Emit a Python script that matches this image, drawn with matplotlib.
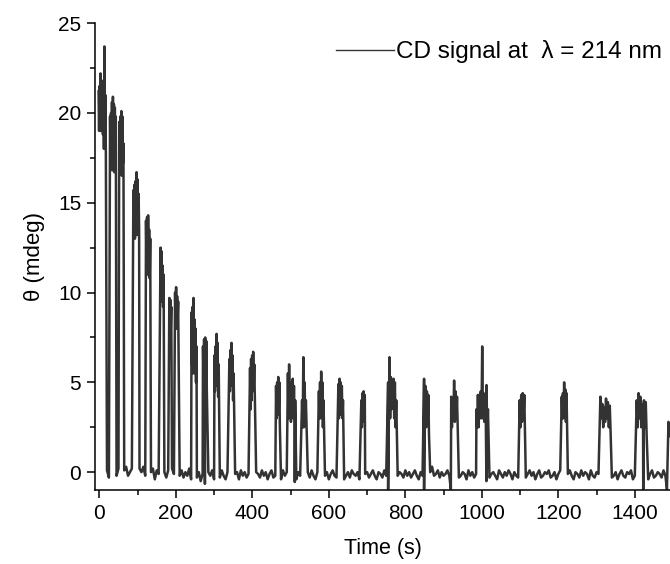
import numpy as np
import matplotlib
matplotlib.use("Agg")
import matplotlib.pyplot as plt
from matplotlib.ticker import MultipleLocator

plt.rcParams['font.family'] = ['Liberation Sans', 'DejaVu Sans']

LINE_COLOR = "#333333"

# pulses: start time (s), end time (s), readings across the pulse top (mdeg)
pulse_start = [-2, 28, 52, 89, 122, 160, 183, 198, 241, 271, 301, 340, 394, 462,
               493, 530, 574, 625, 685, 755, 849, 920, 986, 1099, 1209, 1310,
               1405, 1488]
pulse_end = [17, 43, 63, 104, 133, 168, 188, 206, 254, 281, 312, 351, 405, 472,
             512, 540, 586, 637, 694, 778, 862, 937, 1016, 1111, 1223, 1337,
             1431, 1495]
pulse_tops = [
    [21.2, 19.0, 21.5, 19.3, 22.2, 19.0, 21.8, 19.5, 21.0, 18.8, 21.8, 18.0, 23.7, 18.5, 21.0, 17.8],
    [19.8, 17.2, 20.0, 17.5, 20.6, 16.8, 20.9, 17.0, 20.5, 16.7, 20.3, 17.5, 19.8],
    [19.5, 16.8, 19.8, 17.0, 20.1, 16.5, 19.8, 17.2, 18.3],
    [15.7, 13.5, 16.0, 13.0, 16.2, 13.8, 16.7, 13.2, 16.3, 14.0, 15.5, 13.5],
    [14.0, 11.5, 14.2, 11.0, 14.3, 12.0, 13.5, 10.8, 13.0],
    [12.5, 10.0, 12.3, 9.5, 11.5, 9.2, 11.0],
    [9.7, 7.5, 9.6, 8.0, 9.2],
    [10.0, 8.0, 10.3, 8.0, 9.8, 8.5, 9.5],
    [8.9, 6.0, 9.2, 5.5, 9.7, 6.5, 8.5, 5.5, 8.0, 5.0, 7.0],
    [7.0, 5.0, 7.4, 5.5, 7.5, 4.8, 7.3, 4.5],
    [6.5, 4.5, 7.0, 4.8, 7.7, 5.0, 7.2, 4.2, 6.0],
    [6.3, 4.5, 6.8, 4.8, 7.2, 5.0, 6.5, 4.0, 5.5],
    [5.8, 3.5, 6.3, 4.0, 6.5, 4.5, 6.7, 4.8, 6.0],
    [4.8, 3.0, 5.0, 3.2, 5.3, 3.5, 5.0, 2.5],
    [5.5, 3.0, 6.0, 3.5, 5.0, 2.8, 4.5, 3.5, 5.2, 3.0, 4.8, 2.8, 4.0],
    [4.0, 2.5, 6.4, 2.5, 5.0, 3.0, 4.0],
    [4.5, 3.0, 5.0, 3.0, 5.6, 3.5, 5.0, 2.5, 4.0],
    [4.9, 3.0, 5.2, 3.2, 5.0, 3.5, 4.8, 3.0, 4.0],
    [4.0, 2.5, 4.4, 2.8, 4.5, 3.0, 4.3],
    [5.0, 3.0, 6.4, 3.0, 5.3, 3.5, 5.0, 4.0, 5.2, 3.0, 5.0, 2.5, 4.0, 2.0],
    [5.2, 3.5, 4.8, 2.5, 4.5, 2.8, 4.3, 2.0],
    [4.2, 2.5, 4.0, 3.0, 5.1, 2.8, 4.5, 3.0, 4.2, 2.5],
    [3.5, 2.5, 4.3, 2.5, 4.2, 3.0, 4.5, 3.0, 7.0, 3.0, 4.4, 2.8, 4.0, 3.0, 4.85, 2.0, 3.5],
    [4.0, 2.5, 4.3, 2.8, 4.4, 3.0, 4.3],
    [4.2, 3.0, 4.4, 3.0, 5.0, 3.5, 4.6, 2.8, 4.4, 2.5],
    [4.2, 3.0, 3.8, 2.5, 3.6, 2.8, 4.1, 3.0, 3.9, 2.5, 3.7, 2.0],
    [4.0, 2.5, 4.4, 3.0, 4.2, 2.5, 3.8, 2.8, 4.0, 2.5, 3.9, 2.0],
    [2.8, 2.0, 2.6],
]

# baseline readings every 5 s from t = 15 s (mdeg)
BASE_T0, BASE_STEP = 15, 5
baseline = [
    -0.2, 0.1, -0.3, 0.3, -0.1, 0.4, -0.2, 0.2, 0.0, -0.3, 0.1, 0.3, -0.2, 0.0, 0.2, -0.3, 0.1, -0.1, 0.2, 0.0,
    0.3, -0.2, 0.1, -0.3, 0.0, 0.2, -0.4, 0.1, -0.1, 0.3, -0.2, 0.0, -0.3, 0.1, -0.2, 0.2, -0.1, -0.4, 0.0, -0.2,
    0.1, -0.3, 0.0, -0.2, 0.2, -0.4, -0.1, 0.1, -0.3, 0.0, -0.5, -0.1, 0.2, -0.3, 0.0, -0.2, 0.1, -0.4, -0.1, 0.0,
    -0.3, 0.1, -0.2, -0.4, 0.0, -0.1, 0.2, -0.3, -0.1, 0.0, -0.4, 0.1, -0.2, 0.0, -0.3, -0.1, 0.1, -0.2, -0.4, 0.0,
    -0.1, -0.3, 0.1, -0.2, 0.0, -0.4, -0.1, 0.1, -0.3, -0.2, 0.0, -0.1, -0.4, 0.1, -0.2, 0.0, -0.3, -0.1, 0.2, -0.2,
    -0.4, 0.0, -0.2, 0.1, -0.3, -0.1, 0.0, -0.3, 0.1, -0.2, -0.4, 0.0, -0.1, -0.3, 0.1, -0.2, 0.0, -0.4, -0.1, 0.1,
    -0.2, -0.3, 0.0, -0.1, 0.1, -0.4, -0.2, 0.0, -0.3, 0.1, -0.1, -0.2, 0.0, -0.4, 0.1, -0.2, -0.1, 0.0, -0.3, -0.1,
    0.1, -0.2, -0.4, 0.0, -0.1, -0.3, 0.1, -0.2, 0.0, -0.3, -0.1, 0.1, -0.4, -0.2, 0.0, -0.1, -0.3, 0.1, -0.2, 0.0,
    -0.3, -0.1, 0.1, -0.2, -0.4, 0.0, -0.2, 0.1, -0.3, -0.1, 0.0, 0.3, -0.2, -0.1, 0.1, -0.3, 0.0, -0.2, -0.1, 0.1,
    -0.2, -0.4, 0.0, -0.1, 0.1, -0.3, -0.2, 0.0, -0.1, -0.4, 0.1, -0.2, 0.0, -0.3, -0.1, 0.1, -0.2, -0.4, 0.0, -0.1,
    0.1, -0.3, -0.1, 0.0, -0.2, -0.4, 0.1, -0.1, -0.3, 0.0, -0.2, 0.1, -0.1, -0.4, 0.0, -0.2, -0.3, 0.1, -0.1, 0.0,
    -0.3, -0.1, 0.1, -0.2, 0.0, -0.4, -0.1, 0.1, -0.3, -0.2, 0.0, -0.1, 0.1, -0.3, -0.2, 0.0, -0.4, -0.1, 0.1, -0.2,
    0.0, -0.3, -0.1, 0.1, -0.2, -0.4, 0.0, -0.1, -0.3, 0.1, -0.2, 0.0, -0.1, -0.4, 0.1, -0.2, -0.3, 0.0, -0.1, 0.1,
    -0.2, -0.4, 0.0, -0.1, 0.1, -0.3, -0.2, 0.0, -0.4, -0.1, 0.1, -0.2, -0.3, 0.0, -0.1, 0.1, -0.4, -0.2, 0.0, -0.1,
    -0.3, 0.1, -0.2, 0.0, -0.4, -0.1, 0.1, -0.3, -0.2, 0.0, -0.1, -0.3, 0.1, -0.2, 0.0, -0.4, -0.1,
]

# short negative spikes at pulse edges
dip_times = [276, 511, 755, 849, 919, 1012, 1422, 1484]
dip_values = [-0.65, -0.55, -0.95, -0.95, -0.95, -0.5, -0.95, -0.95]

# --- assemble the trace ---
base_t = BASE_T0 + BASE_STEP * np.arange(len(baseline))
base_v = np.array(baseline)
ts, vs = [], []
for s, e, tops in zip(pulse_start, pulse_end, pulse_tops):
    ts.extend(np.linspace(s, e, len(tops)))
    vs.extend(tops)
for t, v in zip(base_t, base_v):
    if not any(s <= t <= e for s, e in zip(pulse_start, pulse_end)):
        ts.append(t)
        vs.append(v)
ts.extend(dip_times)
vs.extend(dip_values)
order = np.argsort(ts, kind="stable")
ts = np.array(ts)[order]
vs = np.array(vs)[order]

fig = plt.figure(figsize=(6.7, 5.64), dpi=100)
ax = fig.add_axes([0.142, 0.131, 0.858, 0.828])
ax.plot(ts, vs, color=LINE_COLOR, lw=1.8, label="CD signal at  \u03bb = 214 nm")

ax.set_xlim(-11, 1492)
ax.set_ylim(-1, 25)
ax.xaxis.set_major_locator(MultipleLocator(200))
ax.xaxis.set_minor_locator(MultipleLocator(100))
ax.yaxis.set_major_locator(MultipleLocator(5))
ax.yaxis.set_minor_locator(MultipleLocator(2.5))

for side in ("top", "right"):
    ax.spines[side].set_visible(False)
for side in ("left", "bottom"):
    ax.spines[side].set_linewidth(1.1)

ax.tick_params(which="major", direction="out", length=6, width=1.1, labelsize=15, pad=4)
ax.tick_params(which="minor", direction="out", length=3.5, width=1.1)

ax.set_xlabel("Time (s)", fontsize=15.5, labelpad=11)
ax.set_ylabel("\u03b8 (mdeg)", fontsize=16, labelpad=9)

leg = ax.legend(loc="center right", bbox_to_anchor=(1.003, 0.908),
                bbox_transform=fig.transFigure, frameon=False, fontsize=17.5,
                handlelength=2.4, handletextpad=0.1, borderaxespad=0)
for h in leg.get_lines():
    h.set_linewidth(1.0)

fig.savefig("out.png", dpi=100)
